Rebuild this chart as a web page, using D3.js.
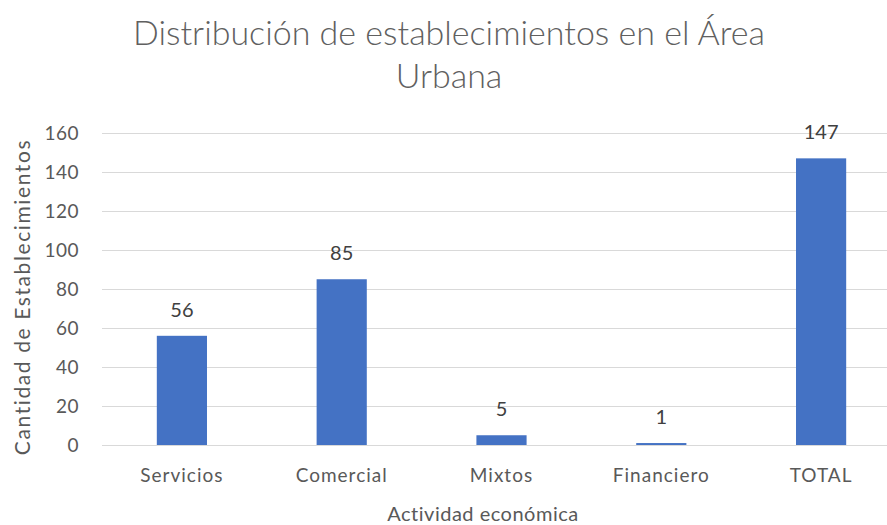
<!DOCTYPE html>
<html>
<head>
<meta charset="utf-8">
<script src="https://cdn.jsdelivr.net/npm/d3@7/dist/d3.min.js"></script>
<style>
  body { margin: 0; background: #fff; }
  text { font-family: Lato, "Open Sans", sans-serif; fill: #595959; }
</style>
</head>
<body>
<div id="chart"></div>
<script>
(function() {
  var w = 887,
      h = 525;

  // data
  var categories = ["Servicios", "Comercial", "Mixtos", "Financiero", "TOTAL"];
  var values = [56, 85, 5, 1, 147];
  var yTicks = [0, 20, 40, 60, 80, 100, 120, 140, 160];
  var titleLines = ["Distribución de establecimientos en el Área", "Urbana"];

  var svg = d3.select("#chart")
    .append("svg")
    .attr("width", w)
    .attr("height", h)
    .style("display", "block");

  // plot runs a bit past the right edge (the picture is cropped there)
  var x = d3.scaleBand().domain(categories).range([102, 901]).paddingInner(0.686).paddingOuter(0.343);
  var y = d3.scaleLinear().domain([0, 160]).range([445, 133]);

  // gridlines
  svg.append("g")
    .selectAll("line")
    .data(yTicks)
    .enter().append("line")
    .attr("x1", 102)
    .attr("x2", 901)
    .attr("y1", function(d) { return Math.round(y(d)) + 0.5 })
    .attr("y2", function(d) { return Math.round(y(d)) + 0.5 })
    .attr("stroke", "#d9d9d9")
    .attr("stroke-width", 1);

  // y tick labels
  svg.append("g")
    .selectAll("text")
    .data(yTicks)
    .enter().append("text")
    .attr("x", 79)
    .attr("y", function(d) { return y(d) + 7 })
    .attr("text-anchor", "end")
    .style("font-size", "19px")
    .style("letter-spacing", "0.5px")
    .text(function(d) { return d });

  // bars
  svg.append("g")
    .selectAll("rect")
    .data(values)
    .enter().append("rect")
    .attr("x", function(d, i) { return x(categories[i]) })
    .attr("width", x.bandwidth())
    .attr("y", function(d) { return y(d) })
    .attr("height", function(d) { return y(0) - y(d) })
    .attr("fill", "#4472c4");

  // value labels
  svg.append("g")
    .selectAll("text")
    .data(values)
    .enter().append("text")
    .attr("x", function(d, i) { return x(categories[i]) + x.bandwidth() / 2 })
    .attr("y", function(d) { return y(d) - 19 })
    .attr("text-anchor", "middle")
    .style("font-size", "20px")
    .style("fill", "#404040")
    .text(function(d) { return d });

  // x category labels
  svg.append("g")
    .selectAll("text")
    .data(categories)
    .enter().append("text")
    .attr("x", function(d) { return x(d) + x.bandwidth() / 2 })
    .attr("y", 482)
    .attr("text-anchor", "middle")
    .style("font-size", "19px")
    .style("letter-spacing", "1px")
    .text(function(d) { return d });

  // axis titles
  svg.append("text")
    .attr("x", 483)
    .attr("y", 521)
    .attr("text-anchor", "middle")
    .style("font-size", "20px")
    .style("letter-spacing", "0.5px")
    .text("Actividad económica");

  svg.append("text")
    .attr("transform", "translate(30,297) rotate(-90)")
    .attr("text-anchor", "middle")
    .style("font-size", "21px")
    .style("letter-spacing", "1.6px")
    .text("Cantidad de Establecimientos");

  // title
  svg.append("g")
    .selectAll("text")
    .data(titleLines)
    .enter().append("text")
    .attr("x", 449)
    .attr("y", function(d, i) { return 45 + i * 43 })
    .attr("text-anchor", "middle")
    .style("font-size", "34px")
    .style("font-weight", "300")
    .style("fill", "#606060")
    .text(function(d) { return d });
})();
</script>
</body>
</html>
